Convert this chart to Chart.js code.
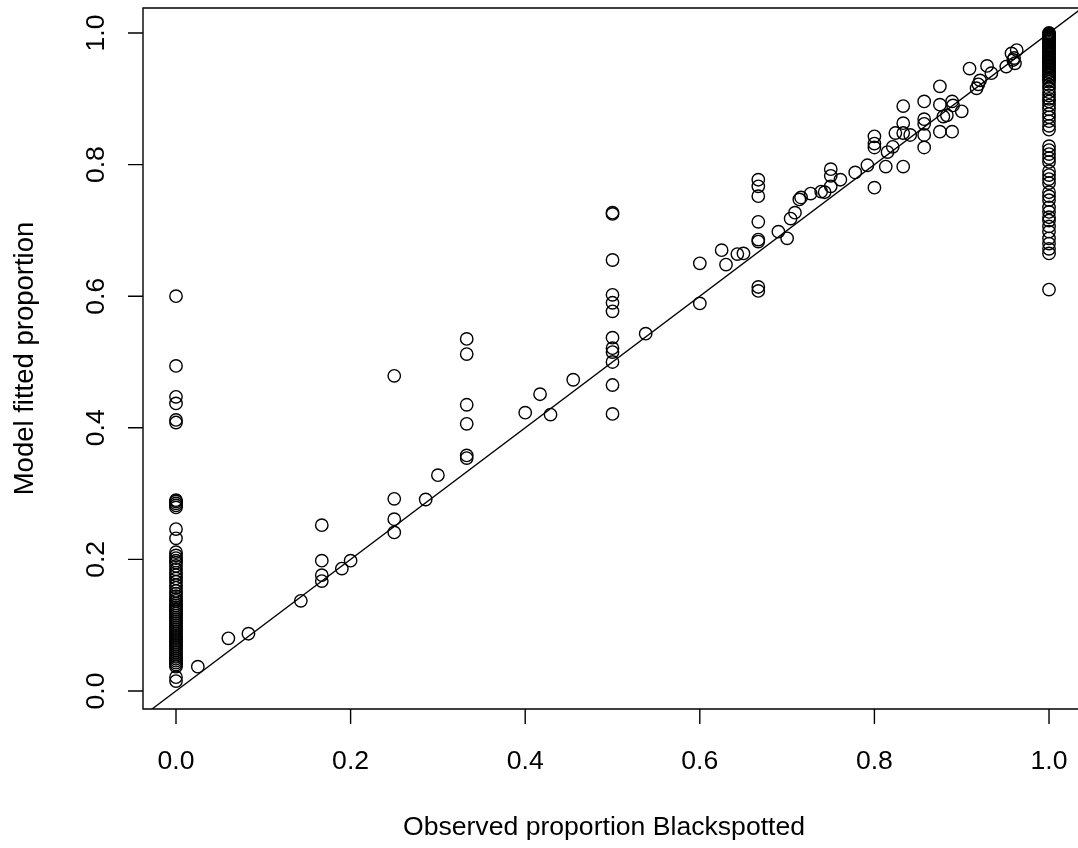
<!DOCTYPE html>
<html>
<head>
<meta charset="utf-8">
<script src="https://cdn.jsdelivr.net/npm/chart.js@4.4.1/dist/chart.umd.min.js"></script>
<style>
  html, body { margin: 0; padding: 0; background: #fff; overflow: hidden; }
</style>
</head>
<body>
<canvas id="fitChart" width="1078" height="848"></canvas>
<script>
const tickValues = [0, 0.2, 0.4, 0.6, 0.8, 1.0];
const tickLabels = ["0.0", "0.2", "0.4", "0.6", "0.8", "1.0"];
const xTitle = "Observed proportion Blackspotted";
const yTitle = "Model fitted proportion";

// fitted values of the sites with observed proportion 0
const fittedAtZero = [
  0.600, 0.494, 0.447, 0.437, 0.412, 0.408, 0.290, 0.288, 0.285, 0.282,
  0.279, 0.246, 0.232, 0.211, 0.206, 0.202, 0.198, 0.195, 0.190, 0.185,
  0.180, 0.176, 0.171, 0.166, 0.161, 0.157, 0.152, 0.148, 0.144, 0.140,
  0.137, 0.133, 0.130, 0.127, 0.124, 0.121, 0.118, 0.115, 0.112, 0.109,
  0.106, 0.103, 0.100, 0.097, 0.094, 0.091, 0.088, 0.085, 0.082, 0.079,
  0.076, 0.073, 0.070, 0.067, 0.064, 0.061, 0.058, 0.055, 0.052, 0.049,
  0.046, 0.043, 0.040, 0.037, 0.021, 0.015
];

// fitted values of the sites with observed proportion 1
const fittedAtOne = [
  1.000, 0.999, 0.998, 0.997, 0.996, 0.995, 0.994, 0.993, 0.992, 0.990,
  0.989, 0.987, 0.985, 0.983, 0.981, 0.979, 0.977, 0.975, 0.973, 0.971,
  0.969, 0.967, 0.965, 0.963, 0.961, 0.959, 0.957, 0.955, 0.953, 0.951,
  0.949, 0.947, 0.945, 0.942, 0.940, 0.937, 0.935, 0.932, 0.929, 0.926,
  0.921, 0.916, 0.910, 0.905, 0.900, 0.896, 0.890, 0.884, 0.877, 0.872,
  0.866, 0.859, 0.853, 0.828, 0.822, 0.816, 0.810, 0.804, 0.790, 0.784,
  0.778, 0.772, 0.758, 0.752, 0.746, 0.735, 0.728, 0.720, 0.715, 0.706,
  0.698, 0.688, 0.680, 0.672, 0.665, 0.610
];

// sites with mixed observations
const observedMid = [
  0.025, 0.060, 0.083, 0.143, 0.167, 0.167, 0.167, 0.167, 0.190, 0.200,
  0.250, 0.250, 0.250, 0.250, 0.286, 0.300, 0.333, 0.333, 0.333, 0.333,
  0.333, 0.333, 0.400, 0.417, 0.429, 0.455, 0.500, 0.500, 0.500, 0.500,
  0.500, 0.500, 0.500, 0.500, 0.500, 0.500, 0.500, 0.500, 0.538, 0.600,
  0.600, 0.625, 0.630, 0.643, 0.650, 0.667, 0.667, 0.667, 0.667, 0.667,
  0.667, 0.667, 0.667, 0.690, 0.700, 0.704, 0.709, 0.714, 0.716, 0.727,
  0.739, 0.743, 0.750, 0.750, 0.750, 0.761, 0.778, 0.792, 0.800, 0.800,
  0.800, 0.800, 0.813, 0.815, 0.821, 0.824, 0.833, 0.833, 0.833, 0.833,
  0.841, 0.857, 0.857, 0.857, 0.857, 0.857, 0.875, 0.875, 0.875, 0.879,
  0.883, 0.889, 0.890, 0.889, 0.900, 0.909, 0.917, 0.919, 0.921, 0.929,
  0.934, 0.951, 0.957, 0.959, 0.961, 0.960, 0.963
];
const fittedMid = [
  0.037, 0.080, 0.087, 0.137, 0.252, 0.198, 0.176, 0.167, 0.186, 0.198,
  0.479, 0.292, 0.261, 0.241, 0.291, 0.328, 0.535, 0.512, 0.435, 0.406,
  0.358, 0.354, 0.423, 0.451, 0.420, 0.473, 0.727, 0.725, 0.655, 0.602,
  0.590, 0.577, 0.537, 0.521, 0.515, 0.500, 0.465, 0.421, 0.543, 0.650,
  0.589, 0.670, 0.648, 0.664, 0.665, 0.777, 0.767, 0.752, 0.713, 0.686,
  0.683, 0.614, 0.608, 0.698, 0.688, 0.718, 0.727, 0.747, 0.750, 0.756,
  0.759, 0.758, 0.793, 0.783, 0.767, 0.777, 0.788, 0.799, 0.843, 0.832,
  0.826, 0.765, 0.797, 0.819, 0.827, 0.848, 0.889, 0.863, 0.848, 0.797,
  0.845, 0.896, 0.869, 0.862, 0.845, 0.826, 0.919, 0.891, 0.850, 0.873,
  0.875, 0.896, 0.890, 0.850, 0.881, 0.946, 0.916, 0.922, 0.928, 0.950,
  0.939, 0.949, 0.969, 0.959, 0.954, 0.962, 0.974
];

const points = [
  ...fittedAtZero.map(v => ({ x: 0, y: v })),
  ...observedMid.map((v, i) => ({ x: v, y: fittedMid[i] })),
  ...fittedAtOne.map(v => ({ x: 1, y: v }))
];

const fontFamily = '"Liberation Sans", Arial, sans-serif';

// R style axes: box, outward ticks, rotated y labels
const rAxes = {
  id: "rAxes",
  afterDraw(chart) {
    const { ctx, chartArea: a, scales: { x, y } } = chart;
    ctx.save();
    ctx.strokeStyle = "#000";
    ctx.lineWidth = 1.4;
    ctx.beginPath();
    ctx.moveTo(a.right + 20, a.top);
    ctx.lineTo(a.left, a.top);
    ctx.lineTo(a.left, a.bottom);
    ctx.lineTo(a.right + 20, a.bottom);
    tickValues.forEach(v => {
      const px = x.getPixelForValue(v);
      ctx.moveTo(px, a.bottom);
      ctx.lineTo(px, a.bottom + 15);
      const py = y.getPixelForValue(v);
      ctx.moveTo(a.left, py);
      ctx.lineTo(a.left - 15, py);
    });
    ctx.stroke();

    ctx.fillStyle = "#000";
    ctx.font = "26.6px " + fontFamily;
    ctx.textAlign = "center";
    ctx.textBaseline = "alphabetic";
    tickValues.forEach((v, i) => {
      ctx.fillText(tickLabels[i], x.getPixelForValue(v), 769);
      ctx.save();
      ctx.translate(104, y.getPixelForValue(v));
      ctx.rotate(-Math.PI / 2);
      ctx.fillText(tickLabels[i], 0, 0);
      ctx.restore();
    });
    ctx.fillText(xTitle, 604, 835);
    ctx.font = "27.5px " + fontFamily;
    ctx.save();
    ctx.translate(33, (a.top + a.bottom) / 2);
    ctx.rotate(-Math.PI / 2);
    ctx.fillText(yTitle, 0, 0);
    ctx.restore();
    ctx.restore();
  }
};

new Chart(document.getElementById("fitChart").getContext("2d"), {
  type: "scatter",
  data: {
    datasets: [
      {
        type: "line",
        data: [{ x: -0.2, y: -0.2 }, { x: 1.2, y: 1.2 }],
        borderColor: "#000",
        borderWidth: 1.3,
        pointRadius: 0,
        fill: false
      },
      {
        data: points,
        pointStyle: "circle",
        pointRadius: 6.2,
        pointBorderWidth: 1.4,
        borderColor: "#000",
        backgroundColor: "rgba(0,0,0,0)"
      }
    ]
  },
  options: {
    responsive: false,
    animation: false,
    layout: { autoPadding: false, padding: { left: 143, top: 8, right: 0, bottom: 139 } },
    plugins: { legend: { display: false }, tooltip: { enabled: false } },
    scales: {
      x: { type: "linear", display: false, min: -0.0378, max: 1.0332 },
      y: { type: "linear", display: false, min: -0.0274, max: 1.038 }
    }
  },
  plugins: [rAxes]
});
</script>
</body>
</html>
